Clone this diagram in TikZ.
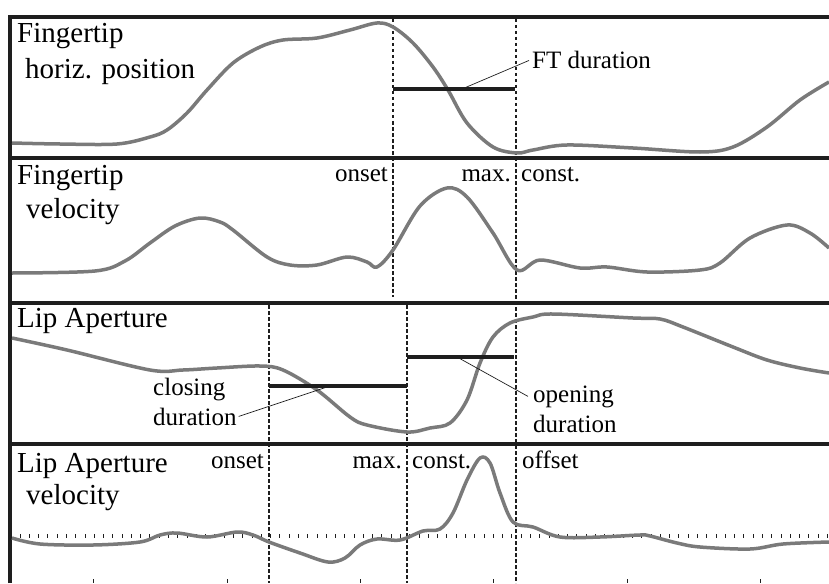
\documentclass[tikz,border=0pt]{standalone}
\usepackage{fontspec}
\setmainfont{Liberation Serif}
\definecolor{sig}{RGB}{122,122,122}
\definecolor{ink}{RGB}{30,30,30}

\tikzset{
    frame/.style={line width=4pt, ink},
    signal/.style={line width=3.5pt, sig, line join=round},
    event/.style={line width=1.3pt, ink, dash pattern=on 3.5pt off 2.5pt},
    bar/.style={line width=3.5pt, ink},
    pointer/.style={line width=0.7pt, ink},
    tickmark/.style={line width=0.9pt, ink},
    title/.style={font=\fontsize{29}{34}\selectfont, anchor=base west, inner sep=0pt},
    label/.style={font=\fontsize{25}{30}\selectfont, inner sep=0pt}
}

\begin{document}
\begin{tikzpicture}[x=1pt, y=-1pt]
    \useasboundingbox (0,0) rectangle (829,583);

    % panel frames
    \draw[frame] (10,583) -- (10,15);
    \foreach \y in {17,158,303,444}
        \draw[frame] (8,\y) -- (829,\y);

    % event lines
    \draw[event] (393,19) -- (393,297);
    \draw[event] (516,19) -- (516,583);
    \draw[event] (269,305) -- (269,583);
    \draw[event] (407,305) -- (407,583);

    % zero line and time ticks
    \foreach \i in {0,...,87}
        \draw[tickmark] ({20+9.28*\i},534) -- ++(0,3.5);
    \foreach \x in {93,227,360,493,627,760}
        \draw[tickmark] (\x,579) -- (\x,583);

    % fingertip position
    \draw[signal] plot[smooth, tension=0.55] coordinates {
        (12,143) (60,144) (117,144) (150,137) (167,130) (187,113) (207,90)
        (233,63) (260,47) (283,40) (317,38) (350,30) (377,23) (393,27)
        (413,43) (433,67) (448,90) (467,123) (493,147) (517,153) (533,150)
        (567,145) (633,148) (700,152) (733,147) (767,127) (800,100) (829,82)};

    % fingertip velocity
    \draw[signal] plot[smooth, tension=0.55] coordinates {
        (12,273) (95,271) (125,261) (150,243) (175,226) (200,218) (220,222)
        (233,230) (267,257) (290,265) (317,265) (347,257) (367,262) (377,267)
        (393,250) (420,206) (447,188) (467,197) (493,233) (517,270) (540,260)
        (580,268) (607,267) (647,272) (700,270) (720,263) (750,238) (787,225)
        (810,233) (829,248)};

    % lip aperture
    \draw[signal] plot[smooth, tension=0.55] coordinates {
        (12,338) (67,350) (150,370) (183,370) (217,368) (260,366) (283,370)
        (317,390) (350,417) (367,425) (407,432) (430,428) (450,423) (467,400)
        (480,363) (493,337) (510,323) (533,317) (553,314) (633,318) (660,319)
        (683,327) (733,347) (767,360) (800,368) (829,373)};

    % lip aperture velocity
    \draw[signal] plot[smooth, tension=0.55] coordinates {
        (12,538) (40,544) (93,545) (140,542) (160,535) (177,533) (207,537)
        (237,532) (253,535) (269,542) (300,553) (328,562) (345,558) (360,545)
        (377,539) (400,540) (423,531) (440,529) (453,513) (467,480) (480,458)
        (490,463) (500,493) (513,522) (533,527) (560,537) (600,537) (640,535)
        (650,536) (677,543) (700,547) (750,549) (783,544) (829,542)};

    % durations
    \draw[bar] (393,89) -- (515,89);
    \draw[bar] (269,386) -- (407,386);
    \draw[bar] (407,357) -- (514,357);
    \coordinate (ftbar) at (462,89);
    \coordinate (closebar) at (330,386);
    \coordinate (openbar) at (457,357);

    % panel titles
    \node[title] (ftpos) at (17,43) {Fingertip};
    \node[title] (ftpos2) at (25,79) {horiz. position};
    \node[title] (ftvel) at (17,184) {Fingertip};
    \node[title] (ftvel2) at (26,218) {velocity};
    \node[title] (lapos) at (17,327) {Lip Aperture};
    \node[title] (lavel) at (17,472) {Lip Aperture};
    \node[title] (lavel2) at (26,504) {velocity};

    % event labels
    \node[label, anchor=base east] (ftonset) at (388,181) {onset};
    \node[label, anchor=base east] (ftmax) at (511,181) {max.};
    \node[label, anchor=base west] (ftconst) at (521,181) {const.};
    \node[label, anchor=base east] (laonset) at (264,468) {onset};
    \node[label, anchor=base east] (lamax) at (402,468) {max.};
    \node[label, anchor=base west] (laconst) at (412,468) {const.};
    \node[label, anchor=base west] (laoffset) at (522,468) {offset};

    % duration labels
    \node[label, anchor=base west] (ftdur) at (532,69) {FT duration};
    \node[label, anchor=base west] (closing) at (153,395) {closing};
    \node[label, anchor=base west] (closingdur) at (153,425) {duration};
    \node[label, anchor=base west] (opening) at (533,402) {opening};
    \node[label, anchor=base west] (openingdur) at (533,432) {duration};

    \draw[pointer] (ftbar) -- ([xshift=-3pt]ftdur.west);
    \draw[pointer] (closebar) -- ([xshift=2pt]closingdur.east);
    \draw[pointer] (openbar) -- ([xshift=-5pt]opening.west);
\end{tikzpicture}
\end{document}
